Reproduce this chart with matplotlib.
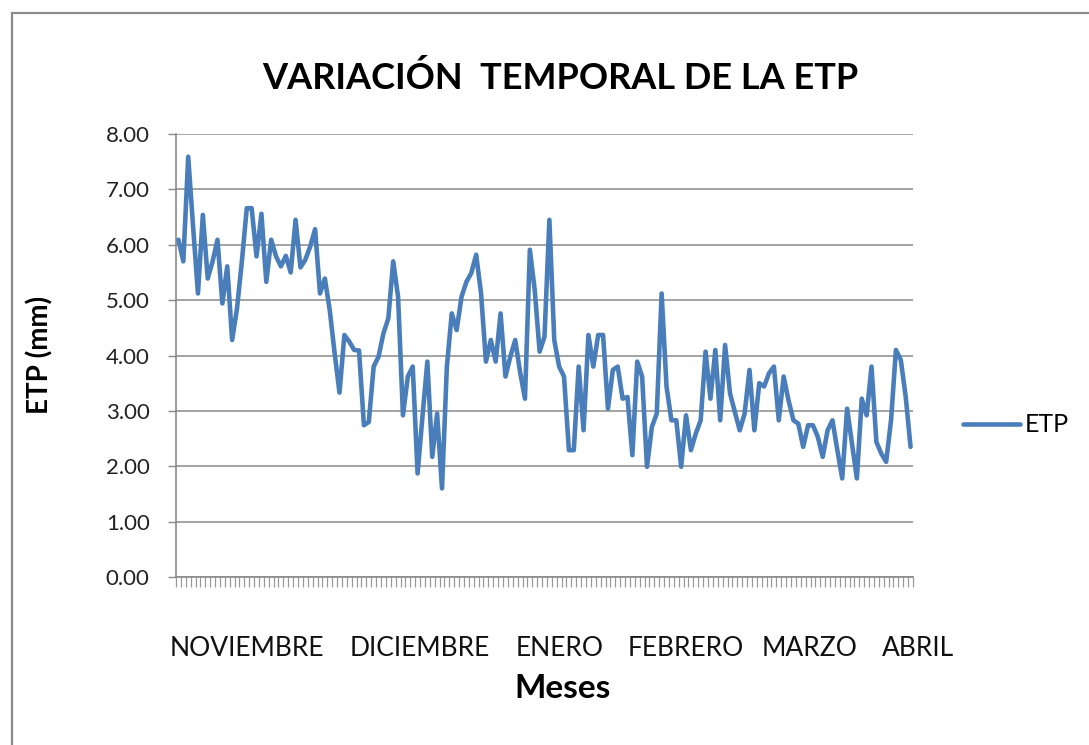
import matplotlib
matplotlib.use("Agg")
import matplotlib.pyplot as plt
from matplotlib.patches import Rectangle
import matplotlib.transforms as mtransforms
import numpy as np

# ---- data ----
etp = [
    6.09, 5.70, 7.59, 6.33, 5.12, 6.54, 5.39, 5.70, 6.09, 4.94,
    5.61, 4.28, 4.85, 5.70, 6.66, 6.66, 5.79, 6.56, 5.33, 6.09,
    5.79, 5.61, 5.80, 5.50, 6.45, 5.59, 5.73, 5.97, 6.28, 5.12,
    5.39, 4.82, 4.04, 3.33, 4.37, 4.25, 4.10, 4.09, 2.74, 2.80,
    3.80, 3.98, 4.40, 4.67, 5.70, 5.06, 2.92, 3.62, 3.80, 1.87,
    2.90, 3.89, 2.17, 2.95, 1.60, 3.80, 4.76, 4.46, 5.06, 5.33,
    5.49, 5.82, 5.12, 3.89, 4.28, 3.89, 4.76, 3.62, 3.98, 4.28,
    3.70, 3.22, 5.91, 5.18, 4.07, 4.34, 6.45, 4.28, 3.80, 3.62,
    2.29, 2.29, 3.80, 2.65, 4.37, 3.80, 4.37, 4.37, 3.04, 3.74,
    3.80, 3.22, 3.25, 2.20, 3.89, 3.62, 1.99, 2.71, 2.95, 5.12,
    3.44, 2.83, 2.83, 1.99, 2.92, 2.29, 2.59, 2.83, 4.07, 3.22,
    4.10, 2.83, 4.19, 3.32, 2.98, 2.65, 2.95, 3.74, 2.65, 3.50,
    3.44, 3.68, 3.80, 2.83, 3.62, 3.19, 2.83, 2.77, 2.35, 2.74,
    2.74, 2.53, 2.17, 2.65, 2.83, 2.29, 1.78, 3.04, 2.41, 1.78,
    3.22, 2.92, 3.80, 2.44, 2.23, 2.08, 2.83, 4.10, 3.92, 3.26,
    2.35,
]
months = ["NOVIEMBRE", "DICIEMBRE", "ENERO", "FEBRERO", "MARZO", "ABRIL"]
month_pos = [14.1, 49.5, 78.0, 103.9, 129.4, 151.5]
yticks = [0, 1, 2, 3, 4, 5, 6, 7, 8]

W, H = 1089, 745
fig = plt.figure(figsize=(W / 100, H / 100), dpi=100)
fig.patch.set_facecolor("white")

FONT = ["Lato", "DejaVu Sans"]

# chart-area border
fig.patches.append(Rectangle((12 / W, -0.1), 1.2, 1 - 13 / H + 0.1,
                             transform=fig.transFigure, fill=False,
                             edgecolor="#8c8c8c", linewidth=1.6))

ax = fig.add_axes([176 / W, 1 - 577 / H, (913 - 176) / W, (577 - 134) / H])
x = np.arange(len(etp))
ax.plot(x, etp, color="#4A7EBB", linewidth=3.3, solid_joinstyle="round",
        solid_capstyle="round", label="ETP", zorder=3)

ax.set_xlim(-0.5, len(etp) - 0.5)
ax.set_ylim(0, 8)
ax.set_yticks(yticks)
ax.set_yticklabels([f"{v:.2f}" for v in yticks], fontsize=16, family=FONT,
                   color="#222222")
ax.yaxis.grid(True, color="#8a8a8a", linewidth=1.1)
ax.set_axisbelow(True)
ax.tick_params(axis="y", length=6, color="#8a8a8a", width=1.0, pad=13)

ax.set_xticks(np.arange(-0.5, len(etp), 1.0))
ax.set_xticklabels([])
ax.tick_params(axis="x", length=7, color="#9a9a9a", width=0.9)

for s in ["top", "right"]:
    ax.spines[s].set_visible(False)
for s in ["left", "bottom"]:
    ax.spines[s].set_color("#8a8a8a")
    ax.spines[s].set_linewidth(1.2)

trans = mtransforms.blended_transform_factory(ax.transData, fig.transFigure)
for m, p in zip(months, month_pos):
    ax.text(p, 1 - 648 / H, m, transform=trans, ha="center", va="center",
            fontsize=19, family=FONT, color="#111111", clip_on=False)

fig.text(563 / W, 1 - 688 / H, "Meses", ha="center", va="center",
         fontsize=24, fontweight="bold", family=FONT)
fig.text(40 / W, 1 - 355 / H, "ETP (mm)", ha="center", va="center",
         rotation=90, fontsize=20, fontweight="bold", family=FONT)
fig.text(560 / W, 1 - 78 / H, "VARIACIÓN  TEMPORAL DE LA ETP", ha="center",
         va="center", fontsize=26, fontweight="bold", family=FONT)

fig.legend(loc="center left", bbox_to_anchor=(940 / W, 1 - 425 / H),
           frameon=False, prop={"family": FONT, "size": 18},
           handlelength=2.3, handletextpad=0.2)

fig.savefig("out.png", dpi=100, facecolor="white")
